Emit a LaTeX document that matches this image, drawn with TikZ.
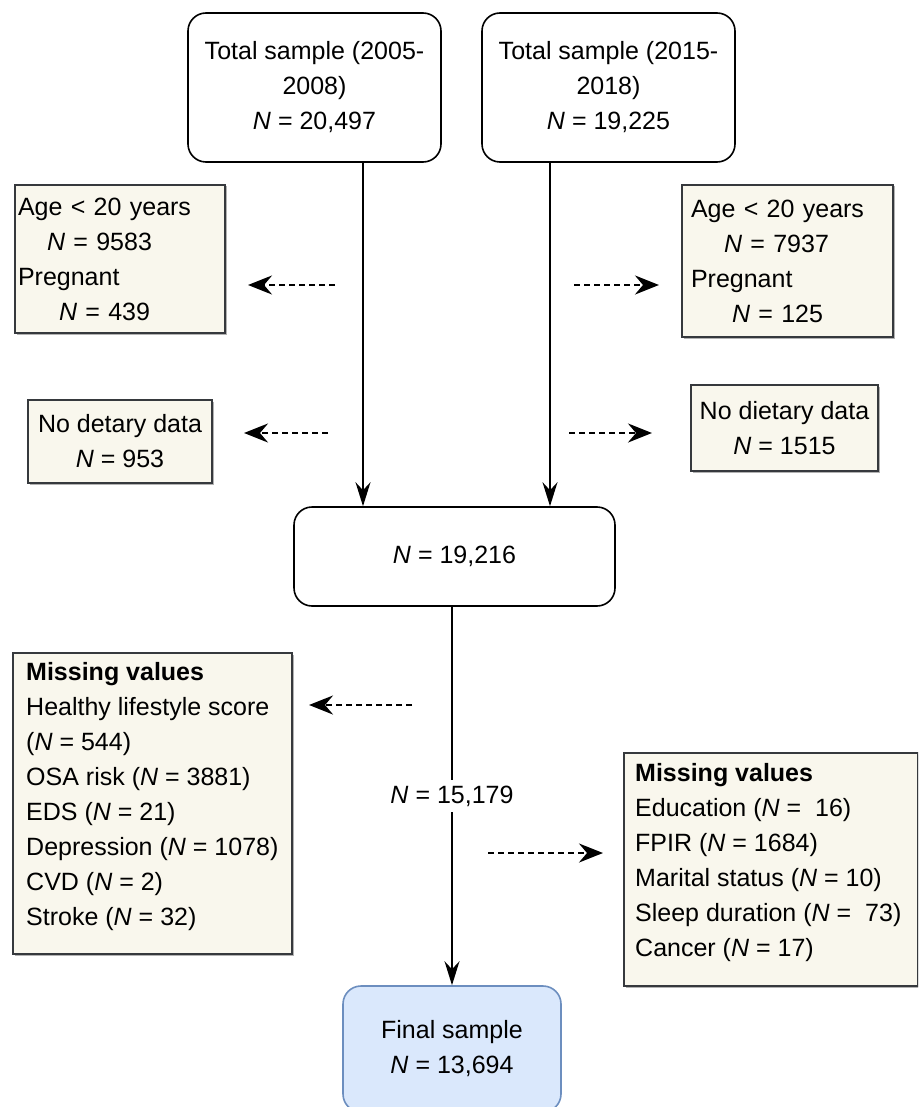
\documentclass[tikz,border=0pt]{standalone}
\usepackage{fontspec}
\setmainfont{Liberation Sans}
\usetikzlibrary{arrows.meta,shadows}
\definecolor{beige}{HTML}{F9F7ED}
\definecolor{bdr}{HTML}{36393D}
\definecolor{fblue}{HTML}{DAE8FC}
\definecolor{bblue}{HTML}{6C8EBF}
\begin{document}
\begin{tikzpicture}[x=1pt,y=-1pt,
  every node/.style={font=\fontsize{25}{35}\selectfont, inner sep=0pt},
  rbox/.style={draw=black, line width=1.6pt, rounded corners=18pt, fill=white, align=center},
  bbox/.style={draw=bdr, line width=1.8pt, fill=beige,
     drop shadow={shadow xshift=1.5pt, shadow yshift=-1.5pt, fill=black!60, opacity=0.5}},
  main/.style={line width=1.5pt, -{Stealth[length=24pt,width=15pt,inset=8pt]}},
  excl/.style={line width=2.2pt, dash pattern=on 6pt off 4pt, -{Stealth[length=24pt,width=19pt,inset=8pt]}},
]
\clip (0,0) rectangle (918,1107);
\fill[white] (0,0) rectangle (918,1107);

% main flow boxes
\node[rbox, minimum width=253pt, minimum height=149pt] (tl) at (314.5,87.5) {Total sample (2005-\\2008)\\\textit{N} = 20,497};
\node[rbox, minimum width=253pt, minimum height=149pt] (tr) at (608.5,87.5) {Total sample (2015-\\2018)\\\textit{N} = 19,225};
\node[rbox, minimum width=321pt, minimum height=99pt] (mid) at (454.5,556.5) {\textit{N} = 19,216};
\node[rbox, draw=bblue, fill=fblue, minimum width=218pt, minimum height=126pt] (final) at (452,1049) {Final sample\\\textit{N} = 13,694};

% exclusion boxes
\node[bbox, minimum width=210pt, minimum height=148pt, text width=204pt, align=left] (ageL) at (120,259)
  {Age < 20 years\\\hspace*{29pt}\textit{N} = 9583\\Pregnant\\\hspace*{41pt}\textit{N} = 439};
\node[bbox, minimum width=211pt, minimum height=152pt, text width=193pt, align=left] (ageR) at (787.5,261)
  {Age < 20 years\\\hspace*{33pt}\textit{N} = 7937\\Pregnant\\\hspace*{41pt}\textit{N} = 125};
\node[bbox, minimum width=184pt, minimum height=83pt, align=center] (dietL) at (120,441.5)
  {No detary data\\\textit{N} = 953};
\node[bbox, minimum width=187pt, minimum height=86pt, align=center] (dietR) at (784.5,428)
  {No dietary data\\\textit{N} = 1515};
\node[bbox, minimum width=279pt, minimum height=301pt] (missL) at (152.5,803.5) {};
\node[anchor=north west, align=left] (missLt) at (26,662)
  {\textbf{Missing values}\\Healthy lifestyle score\\(\textit{N} = 544)\\OSA risk (\textit{N} = 3881)\\EDS (\textit{N} = 21)\\Depression (\textit{N} = 1078)\\CVD (\textit{N} = 2)\\Stroke (\textit{N} = 32)};
\node[bbox, minimum width=294pt, minimum height=233pt] (missR) at (771,869.5) {};
\node[anchor=north west, align=left] (missRt) at (635,763)
  {\textbf{Missing values}\\Education (\textit{N} = \ 16)\\FPIR (\textit{N} = 1684)\\Marital status (\textit{N} = 10)\\Sleep duration (\textit{N} = \ 73)\\Cancer (\textit{N} = 17)};

% main arrows
\coordinate (lx) at (363,0);
\coordinate (rx) at (550,0);
\draw[main] (tl.south -| lx) -- (mid.north -| lx);
\draw[main] (tr.south -| rx) -- (mid.north -| rx);
\draw[main] (mid.south -| final.north) -- node[fill=white, inner xsep=2pt, inner ysep=6pt] (n15) {\textit{N} = 15,179} (final.north);

% exclusion arrows
\coordinate (e1s) at (335,285); \coordinate (e1e) at (248,285);
\coordinate (e2s) at (574,285); \coordinate (e2e) at (659,285);
\coordinate (e3s) at (328,433); \coordinate (e3e) at (244,433);
\coordinate (e4s) at (569,433); \coordinate (e4e) at (652,433);
\coordinate (e5s) at (412,705); \coordinate (e5e) at (309,705);
\coordinate (e6s) at (488,853); \coordinate (e6e) at (603,853);
\draw[excl] (e1s) -- (e1e);
\draw[excl] (e2s) -- (e2e);
\draw[excl] (e3s) -- (e3e);
\draw[excl] (e4s) -- (e4e);
\draw[excl] (e5s) -- (e5e);
\draw[excl] (e6s) -- (e6e);
\end{tikzpicture}
\end{document}
